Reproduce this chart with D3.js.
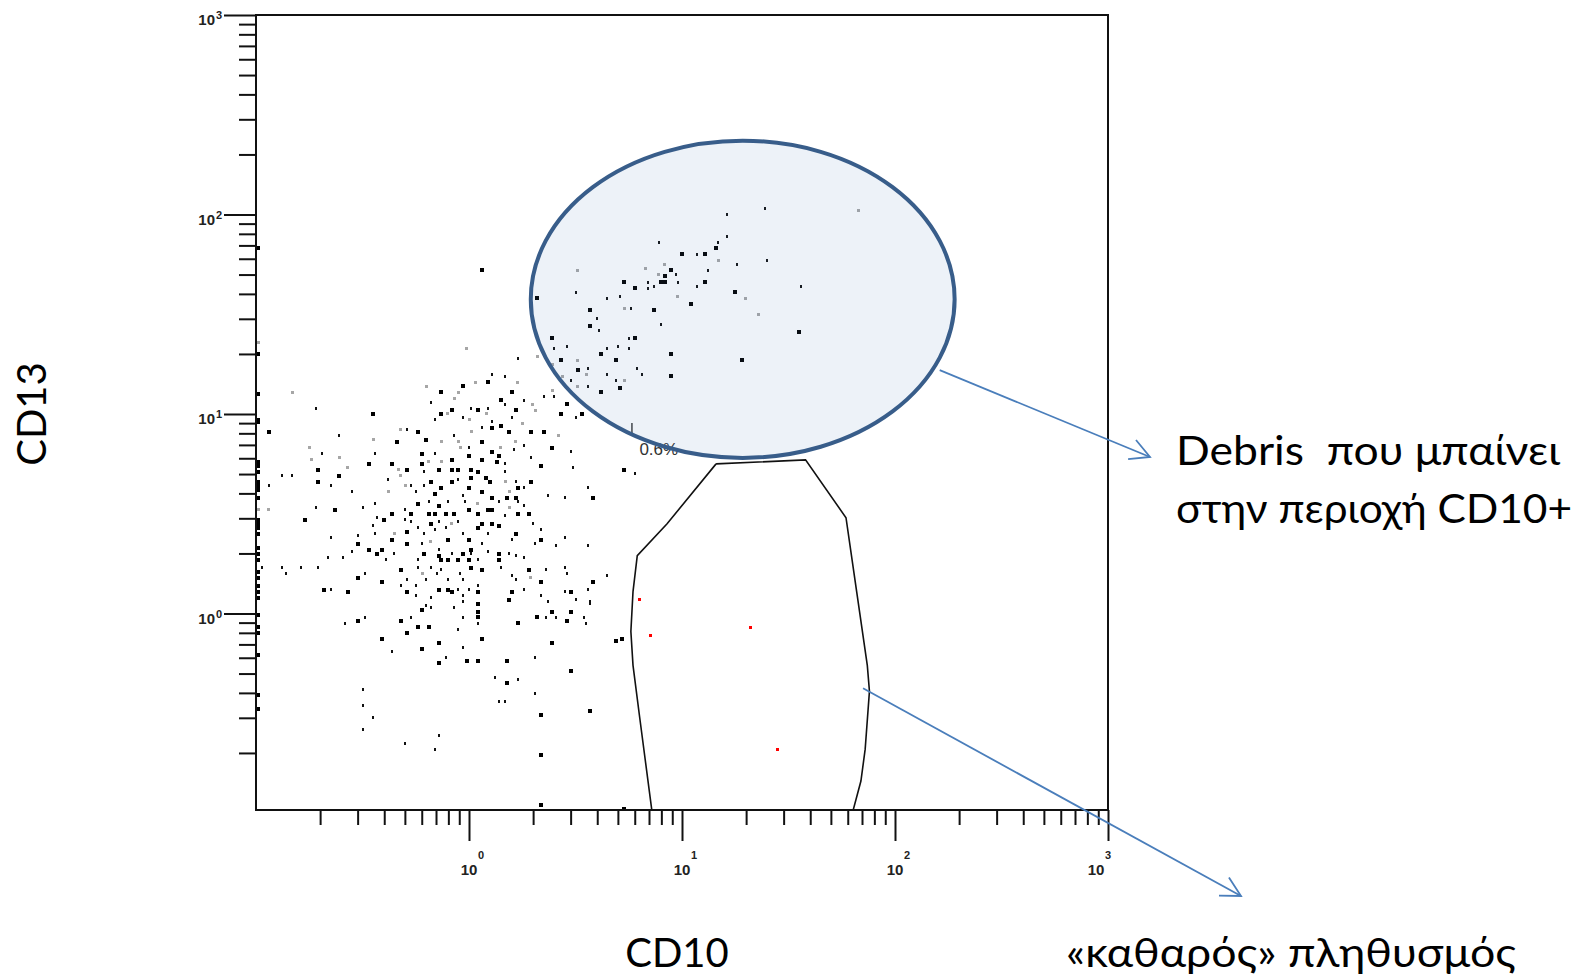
<!DOCTYPE html>
<html><head><meta charset="utf-8">
<script src="https://cdn.jsdelivr.net/npm/d3@7"></script>
<style>
body{margin:0;background:#fff}
svg{display:block}
.tick line{stroke:#111;stroke-width:2}
.tlab{font-family:"Liberation Sans",Arial,sans-serif;font-weight:bold;fill:#222}
.big{font-family:Lato,"Open Sans",sans-serif;fill:#000}
</style>
</head><body>
<svg id="c" width="1580" height="978"></svg>
<script>
// ---- DATA: events as [log10 CD10, log10 CD13] (decades) ----
const blackEvents = [
[0.09,1.16],[-0.03,1.14],[-0.13,1.11],[0.20,1.11],[0.15,1.07],[-0.08,1.02],[0.04,1.02],[0.22,1.02],[-0.45,1.00],[-0.13,1.00],
[0.11,0.93],[0.15,0.94],[-0.94,0.91],[-0.24,0.91],[0.19,0.91],[-0.34,0.86],[-0.20,0.87],[0.06,0.86],[0.11,0.81],[-0.22,0.80],
[-0.08,0.77],[0.06,0.77],[0.14,0.79],[0.00,0.79],[0.13,0.76],[-0.47,0.75],[-0.36,0.75],[-0.22,0.75],[-0.71,0.72],[-0.29,0.72],
[-0.14,0.72],[-0.08,0.72],[-0.05,0.72],[0.01,0.72],[0.04,0.71],[-0.61,0.69],[0.01,0.68],[0.08,0.68],[-0.71,0.66],[-0.18,0.66],
[-0.08,0.66],[0.10,0.66],[0.29,0.66],[-0.13,0.63],[0.00,0.63],[0.23,0.63],[-0.16,0.60],[0.06,0.61],[0.11,0.58],[0.18,0.58],
[0.22,0.58],[0.58,0.58],[-0.24,0.55],[-0.14,0.54],[-0.63,0.52],[0.00,0.52],[0.09,0.52],[0.11,0.52],[-0.36,0.50],[-0.27,0.50],
[-0.19,0.50],[-0.16,0.50],[-0.11,0.50],[-0.07,0.50],[0.04,0.50],[0.23,0.50],[0.28,0.50],[-0.77,0.47],[-0.40,0.47],[-0.18,0.45],
[0.06,0.45],[0.11,0.45],[0.14,0.44],[-0.29,0.41],[0.04,0.43],[0.22,0.40],[-0.36,0.37],[-0.10,0.37],[0.00,0.37],[0.34,0.37],
[-0.52,0.35],[-0.29,0.35],[-0.47,0.32],[-0.41,0.32],[0.01,0.32],[0.14,0.30],[-0.43,0.30],[-0.21,0.30],[-0.14,0.29],[-0.03,0.30],
[-0.13,0.27],[-0.10,0.27],[-0.05,0.27],[0.00,0.27],[0.14,0.27],[-0.32,0.22],[0.01,0.23],[0.06,0.22],[0.28,0.22],[-0.52,0.18],
[-0.41,0.16],[0.34,0.16],[0.58,0.16],[-0.68,0.12],[-0.14,0.12],[-0.10,0.12],[0.04,0.11],[-0.57,0.11],[-0.29,0.11],[-0.08,0.11],
[0.20,0.11],[0.48,0.11],[0.19,0.07],[0.04,0.05],[-0.22,0.02],[0.04,0.01],[0.39,0.01],[0.48,0.01],[-0.52,-0.04],[-0.32,-0.04],
[0.04,-0.02],[0.32,-0.02],[0.46,-0.04],[0.23,-0.05],[-0.29,-0.10],[-0.24,-0.07],[-0.19,-0.07],[-0.41,-0.13],[-0.14,-0.15],[0.06,-0.13],
[0.39,-0.15],[0.69,-0.14],[0.72,-0.13],[-0.22,-0.18],[-0.01,-0.24],[0.04,-0.24],[0.18,-0.24],[-0.14,-0.25],[0.48,-0.29],[0.18,-0.35],
[0.34,-0.51],[0.57,-0.49],[0.34,-0.71],[0.34,-0.96],[0.73,-0.98],[0.06,1.72],
[1.00,1.80],[1.11,1.80],[1.16,1.83],[0.95,1.72],[0.92,1.69],[0.73,1.66],[0.90,1.66],[0.92,1.66],[1.11,1.66],[0.78,1.63],
[1.25,1.61],[0.32,1.58],[1.04,1.55],[0.57,1.52],[0.87,1.52],[0.57,1.44],[1.55,1.41],[0.39,1.38],[0.78,1.38],[0.62,1.30],
[0.95,1.30],[0.43,1.27],[0.69,1.27],[1.28,1.27],[0.51,1.22],[0.95,1.19],[0.62,1.11],[0.71,1.13],[0.46,1.05],[0.43,1.00],
[0.53,1.00],[0.29,0.91],[0.35,0.91],[0.39,0.83],[0.34,0.74],[0.73,0.72]
];
const dimEvents = [
[0.23,1.28],[0.11,1.20],[0.17,1.19],[-0.18,1.06],[0.17,1.05],[-0.72,1.03],[0.01,1.03],[0.09,1.03],[-0.16,0.97],[-0.03,0.98],
[0.20,0.98],[0.11,0.96],[0.06,0.93],[-0.29,0.92],[-0.61,0.89],[-0.07,0.89],[0.00,0.83],[0.21,0.82],[-0.16,0.80],[-0.44,0.80],
[-0.69,0.80],[0.17,0.75],[-0.21,0.71],[0.17,0.71],[-0.88,0.69],[-0.83,0.69],[-0.05,0.67],[-0.38,0.67],[0.22,0.66],[-0.94,0.64],
[-0.65,0.64],[-0.27,0.64],[-0.21,0.64],[0.26,0.63],[-0.55,0.61],[-0.25,0.61],[-0.03,0.59],[0.37,0.59],[0.45,0.58],[0.56,0.63],
[-0.44,0.55],[-0.19,0.56],[-0.10,0.56],[-0.02,0.56],[0.14,0.56],[0.23,0.56],[0.26,0.54],[-0.72,0.53],[-0.50,0.53],[-0.30,0.52],
[0.17,0.49],[-0.43,0.48],[-0.30,0.47],[-0.27,0.46],[-0.14,0.46],[-0.05,0.46],[0.30,0.45],[-0.45,0.44],[-0.24,0.43],[-0.16,0.42],
[-0.11,0.43],[0.34,0.42],[-0.44,0.40],[-0.21,0.40],[-0.03,0.40],[0.09,0.40],[-0.65,0.38],[-0.52,0.39],[0.20,0.37],[0.45,0.38],
[-0.22,0.35],[0.06,0.35],[0.31,0.35],[0.41,0.34],[0.56,0.34],[-0.14,0.32],[-0.55,0.31],[-0.66,0.28],[-0.59,0.28],[-0.35,0.30],
[-0.08,0.30],[0.01,0.30],[0.09,0.31],[0.19,0.30],[0.22,0.29],[0.26,0.28],[-0.39,0.27],[-0.24,0.27],[0.04,0.27],[-0.97,0.23],
[-0.88,0.23],[-0.79,0.23],[-0.71,0.23],[-0.18,0.23],[-0.13,0.22],[-0.24,0.23],[0.15,0.23],[0.36,0.22],[0.45,0.23],[-0.86,0.20],
[-0.49,0.20],[-0.15,0.20],[-0.04,0.20],[0.20,0.19],[0.46,0.20],[0.65,0.19],[-0.29,0.17],[-0.20,0.17],[-0.10,0.17],[-0.03,0.17],
[0.22,0.17],[-0.25,0.14],[0.04,0.14],[-0.65,0.12],[-0.32,0.14],[-0.05,0.12],[0.00,0.12],[0.26,0.12],[0.56,0.12],[-0.25,0.09],
[-0.03,0.09],[0.34,0.09],[0.45,0.11],[-0.18,0.08],[0.37,0.06],[0.50,0.07],[0.57,0.06],[-0.20,0.04],[-0.03,0.06],[0.57,0.05],
[-0.18,0.03],[-0.07,0.03],[-0.49,-0.02],[-0.27,-0.02],[-0.03,-0.02],[0.36,-0.02],[0.41,-0.02],[0.54,-0.02],[-0.58,-0.05],[0.04,-0.05],
[0.55,-0.05],[-0.05,-0.08],[-0.03,-0.17],[-0.36,-0.19],[-0.11,-0.22],[0.31,-0.22],[0.12,-0.32],[0.23,-0.33],[0.31,-0.40],[-0.50,-0.38],
[-0.50,-0.46],[0.14,-0.44],[0.17,-0.44],[-0.45,-0.52],[-0.50,-0.58],[-0.14,-0.61],[-0.30,-0.65],[-0.16,-0.68],[0.78,0.70],
[1.39,2.03],[1.21,2.00],[0.89,1.86],[1.17,1.86],[1.21,1.89],[1.07,1.80],[1.40,1.77],[1.26,1.75],[0.97,1.70],[1.12,1.72],
[0.84,1.66],[0.98,1.66],[0.84,1.63],[0.87,1.64],[1.07,1.64],[1.56,1.64],[0.50,1.61],[0.71,1.59],[0.65,1.58],[0.76,1.53],
[0.60,1.48],[0.90,1.45],[0.61,1.42],[0.75,1.38],[0.46,1.34],[0.40,1.33],[0.65,1.33],[0.70,1.34],[0.75,1.33],[0.56,1.23],
[0.79,1.23],[0.65,1.20],[0.81,1.20],[0.48,1.17],[0.69,1.17],[0.56,1.14],[0.40,1.09],[0.35,1.09],[0.50,0.98],[0.26,1.07],
[0.26,0.84],[0.48,0.81],[0.49,0.73],[0.29,0.78]
];
const grayEvents = [
[-0.20,1.14],[0.03,1.16],[0.23,1.16],[-0.05,1.11],[-0.83,1.11],[-0.07,1.08],[-0.10,1.00],[0.08,1.00],[0.00,0.97],[0.01,0.91],
[-0.32,0.92],[-0.13,0.86],[-0.05,0.86],[-0.45,0.87],[0.22,0.86],[-0.75,0.83],[-0.04,0.83],[0.15,0.83],[-0.74,0.77],[-0.61,0.78],
[-0.19,0.76],[-0.13,0.76],[-0.57,0.73],[-0.33,0.72],[-0.32,0.69],[0.17,0.66],[-0.30,0.64],[-0.38,0.61],[0.19,0.61],[0.04,0.55],
[-0.94,0.52],[0.19,0.53],[-0.08,0.45],[-0.35,0.40],[-0.18,0.36],[-0.22,0.20],[0.29,0.18],[-0.01,1.33],
[1.83,2.02],[1.17,1.77],[0.92,1.75],[0.83,1.73],[0.51,1.72],[0.89,1.70],[1.30,1.58],[0.98,1.59],[0.73,1.53],[1.36,1.50],
[0.51,1.27],[0.55,1.20],[0.44,1.19],[0.73,1.17],[0.51,1.14],[0.39,1.12],[0.30,1.05],[0.32,1.29],[0.39,1.25],[0.31,1.02],
[0.25,0.95],[0.42,0.89],[-0.99,1.36],[-0.99,0.52]
];
// events piled up at the lowest CD10 channel
const pileupEvents = [
[-0.99,1.83],[-0.99,1.30],[-0.99,1.10],[-0.99,0.97],[-0.99,0.96],[-0.99,0.76],[-0.99,0.74],[-0.99,0.71],[-0.99,0.66],[-0.99,0.64],
[-0.99,0.62],[-0.99,0.58],[-0.99,0.47],[-0.99,0.45],[-0.99,0.43],[-0.99,0.40],[-0.99,0.33],[-0.99,0.30],[-0.99,0.27],[-0.99,0.21],
[-0.99,0.18],[-0.99,0.14],[-0.99,0.11],[-0.99,0.08],[-0.99,-0.01],[-0.99,-0.07],[-0.99,-0.10],[-0.99,-0.21],[-0.99,-0.41],[-0.99,-0.48]
];
// events inside the CD10+ gate
const gatedEvents = [[0.80,0.07],[0.85,-0.11],[1.32,-0.07],[1.45,-0.68]];
// CD10+ gate polygon vertices
const gateVertices = [
[1.16,0.75],[1.58,0.77],[1.77,0.48],[1.82,0.11],[1.87,-0.26],[1.88,-0.39],[1.86,-0.68],[1.84,-0.84],[1.80,-1.0],
[0.86,-1.0],[0.80,-0.51],[0.77,-0.26],[0.76,-0.09],[0.77,0.11],[0.79,0.29],[0.93,0.45],[1.16,0.75]
];
const gateLabel = {text:"0.6%", at:[0.80,0.795], marker:[[0.765,0.955],[0.765,0.90]]};
// debris ellipse (bounding extents in decades)
const debrisCD10 = [0.29, 2.28];
const debrisCD13 = [0.78, 2.37];
const axisDecades = [0,1,2,3];
const axisBase = "10";
const xTitle = "CD10", yTitle = "CD13";
const note1 = ["Debris  που μπαίνει","στην περιοχή CD10+"];
const note2 = "«καθαρός» πληθυσμός";
const arrow1From = [2.21,1.22], arrow2From = [1.85,-0.375];

// ---- DRAWING ----
const svg = d3.select("#c");
const F = {l:256, r:1108, t:15, b:810};
const x = d3.scaleLog().domain([0.1,1000]).range([256,1108]);
const y = d3.scaleLog().domain([0.1,1000]).range([813,15]);
const px = d => x(Math.pow(10,d[0])), py = d => y(Math.pow(10,d[1]));

svg.append("defs").append("clipPath").attr("id","clip")
  .append("rect").attr("x",F.l+1).attr("y",F.t+1).attr("width",F.r-F.l-2).attr("height",F.b-F.t-2);

const minors = [];
[-1,0,1,2].forEach(e=>{for(let k=2;k<=9;k++) minors.push(k*Math.pow(10,e));});
const majors = axisDecades.map(d=>Math.pow(10,d));

function clean(g){g.select(".domain").remove();}
svg.append("g").attr("transform",`translate(0,${F.b})`)
  .call(d3.axisBottom(x).tickValues(minors).tickSize(15).tickFormat("")).call(clean);
svg.append("g").attr("transform",`translate(0,${F.b})`)
  .call(d3.axisBottom(x).tickValues(majors).tickSize(31).tickFormat("")).call(clean);
svg.append("g").attr("transform",`translate(${F.l},0)`)
  .call(d3.axisLeft(y).tickValues(minors).tickSize(17).tickFormat("")).call(clean);
svg.append("g").attr("transform",`translate(${F.l},0)`)
  .call(d3.axisLeft(y).tickValues(majors).tickSize(32).tickFormat("")).call(clean);

// tick labels 10^n
axisDecades.forEach(d=>{
  const v = Math.pow(10,d);
  const sx = x(v) + (d===3 ? -12 : 0);
  svg.append("text").attr("class","tlab").attr("x",sx).attr("y",F.b+65)
    .attr("text-anchor","middle").attr("font-size",15).text(axisBase);
  svg.append("text").attr("class","tlab").attr("x",sx+9).attr("y",F.b+49)
    .attr("font-size",11).text(d);
  const sy = y(v);
  svg.append("text").attr("class","tlab").attr("x",215).attr("y",sy+10)
    .attr("text-anchor","end").attr("font-size",15).text(axisBase);
  svg.append("text").attr("class","tlab").attr("x",216).attr("y",sy+4)
    .attr("font-size",11).text(d);
});

// frame
svg.append("rect").attr("x",F.l).attr("y",F.t).attr("width",F.r-F.l).attr("height",F.b-F.t)
  .attr("fill","none").attr("stroke","#111").attr("stroke-width",2);

const plot = svg.append("g").attr("clip-path","url(#clip)");
function dots(data, w, h, color){
  plot.append("g").selectAll("rect").data(data).join("rect")
    .attr("x",d=>Math.round(px(d)-w/2)).attr("y",d=>Math.round(py(d)-h/2))
    .attr("width",w).attr("height",h).attr("fill",color)
    .attr("shape-rendering","crispEdges");
}
dots(grayEvents, 3, 3, "#a6a6a6");
dots(dimEvents, 2, 3, "#111");
dots(blackEvents, 4, 4, "#000");
dots(pileupEvents, 3, 4, "#000");
dots(gatedEvents, 3, 3, "#ff0000");

// gate
plot.append("path").datum(gateVertices)
  .attr("d",d3.line().x(px).y(py))
  .attr("fill","none").attr("stroke","#111").attr("stroke-width",1.6);
svg.append("text").attr("x",px(gateLabel.at)).attr("y",py(gateLabel.at))
  .attr("font-family","Liberation Sans, Arial, sans-serif").attr("font-size",17)
  .attr("fill","#333").text(gateLabel.text);
svg.append("line").attr("x1",px(gateLabel.marker[0])).attr("x2",px(gateLabel.marker[1]))
  .attr("y1",py(gateLabel.marker[0])).attr("y2",py(gateLabel.marker[1]))
  .attr("stroke","#222").attr("stroke-width",1.3);

// debris ellipse
const ex0 = x(Math.pow(10,debrisCD10[0])), ex1 = x(Math.pow(10,debrisCD10[1]));
const ey0 = y(Math.pow(10,debrisCD13[1])), ey1 = y(Math.pow(10,debrisCD13[0]));
svg.append("ellipse").attr("cx",(ex0+ex1)/2).attr("cy",(ey0+ey1)/2)
  .attr("rx",(ex1-ex0)/2).attr("ry",(ey1-ey0)/2)
  .attr("fill","rgb(79,129,189)").attr("fill-opacity",0.1)
  .attr("stroke","#385d8a").attr("stroke-width",4);

// arrows
function arrow(x1,y1,x2,y2){
  const g = svg.append("g").attr("stroke","#4a7ebb").attr("stroke-width",1.8).attr("fill","none");
  g.append("line").attr("x1",x1).attr("y1",y1).attr("x2",x2).attr("y2",y2);
  const a = Math.atan2(y1-y2,x1-x2), L=22, h=28*Math.PI/180;
  g.append("path").attr("d",`M${x2+L*Math.cos(a+h)},${y2+L*Math.sin(a+h)}L${x2},${y2}L${x2+L*Math.cos(a-h)},${y2+L*Math.sin(a-h)}`);
}
arrow(px(arrow1From),py(arrow1From),1150,457);
arrow(px(arrow2From),py(arrow2From),1241,896);

// titles / notes
svg.append("text").attr("class","big").attr("font-size",40)
  .attr("transform","translate(46,414) rotate(-90)").attr("text-anchor","middle").text(yTitle);
svg.append("text").attr("class","big").attr("font-size",40)
  .attr("x",677).attr("y",967).attr("text-anchor","middle").text(xTitle);
svg.append("text").attr("class","big").attr("font-size",40).attr("xml:space","preserve")
  .style("white-space","pre").attr("x",1176).attr("y",465)
  .attr("textLength",384).attr("lengthAdjust","spacingAndGlyphs").text(note1[0]);
svg.append("text").attr("class","big").attr("font-size",40)
  .attr("x",1176).attr("y",523)
  .attr("textLength",396).attr("lengthAdjust","spacingAndGlyphs").text(note1[1]);
svg.append("text").attr("class","big").attr("font-size",40)
  .attr("x",1066).attr("y",967)
  .attr("textLength",450).attr("lengthAdjust","spacingAndGlyphs").text(note2);
</script>
</body></html>
